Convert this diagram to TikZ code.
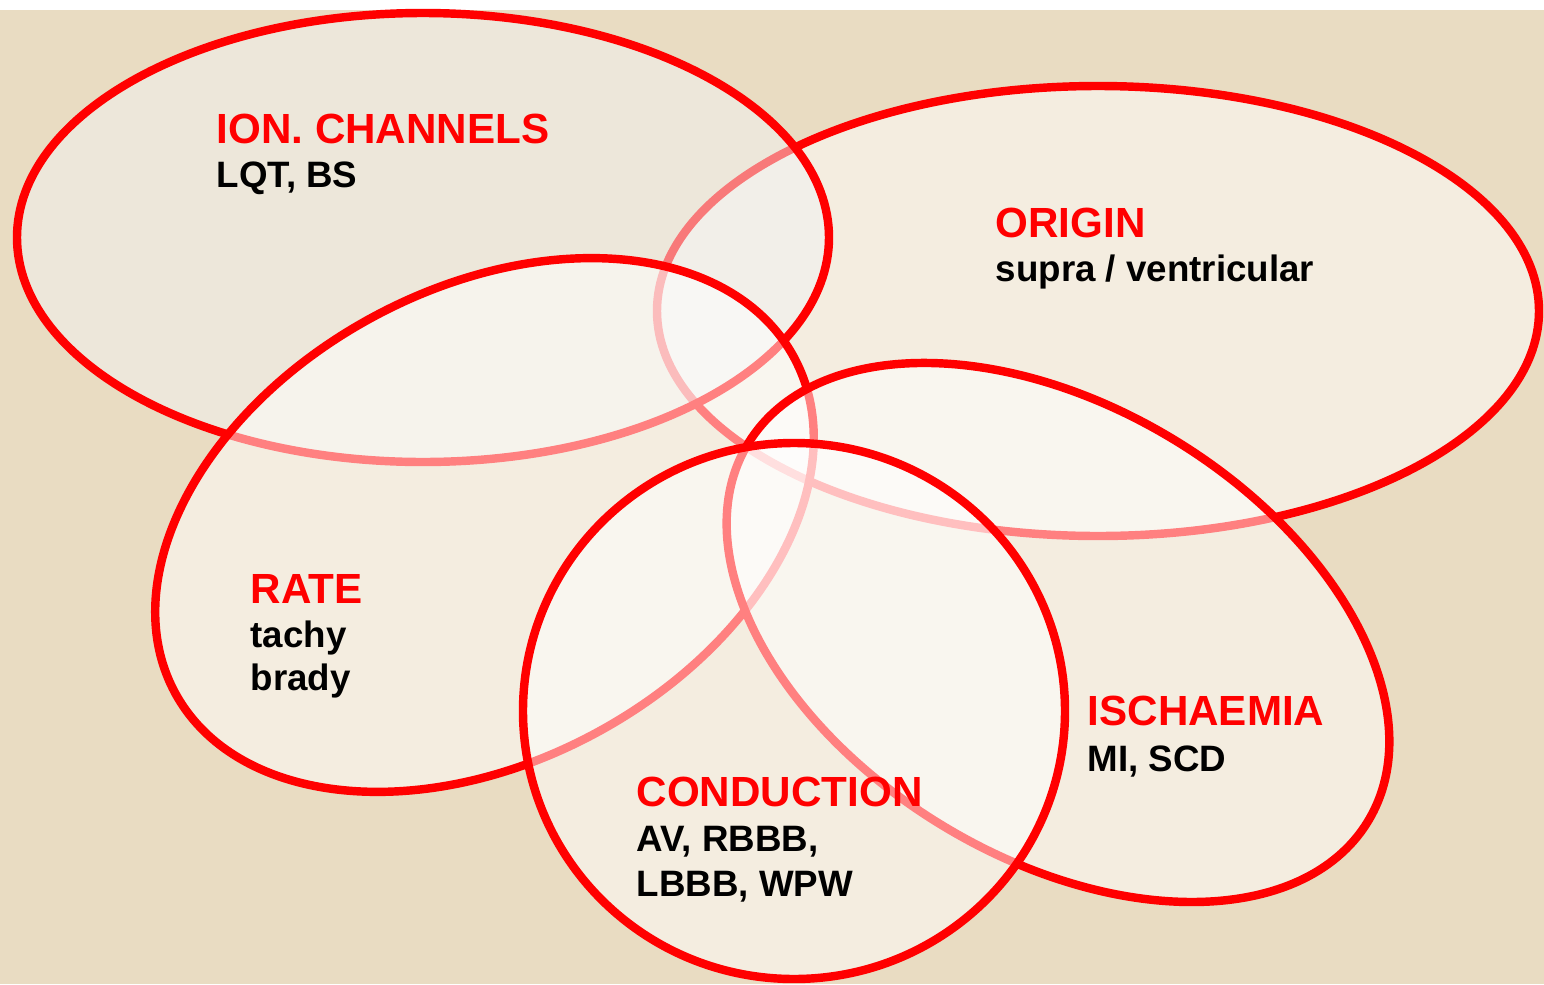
\documentclass[tikz,border=0pt]{standalone}
\usepackage{fontspec}
\setmainfont{Liberation Sans}
\usepackage{xcolor}
\usepackage{tikz}
\usetikzlibrary{positioning}
\definecolor{bgtan}{RGB}{233,220,194}
\definecolor{ionfill}{RGB}{242,242,242}

\begin{document}
\begin{tikzpicture}[
  venn/.style={draw=red,line width=2.4pt,fill=white,fill opacity=0.5},
  title/.style={anchor=base west,inner sep=0pt,text=red,
                font=\fontsize{12}{14}\selectfont\bfseries},
  items/.style={anchor=base west,inner sep=0pt,
                font=\fontsize{10.45}{12}\selectfont\bfseries}
]
  \useasboundingbox (0,0) rectangle (15.44,-9.84);
  \fill[white] (0,0) rectangle (15.44,-9.84);
  \fill[bgtan] (0,-0.10) rectangle (15.44,-9.84);

  % sets, back to front
  \coordinate (origin) at (10.98,-3.11);
  \coordinate (ion)    at (4.23,-2.375);
  \coordinate (rate)   at (4.845,-5.25);
  \coordinate (isch)   at (10.58,-6.325);
  \coordinate (cond)   at (7.94,-7.11);

  \draw[venn] (origin) ellipse [x radius=4.41, y radius=2.25];
  \draw[venn,fill=ionfill] (ion) ellipse [x radius=4.06, y radius=2.245];
  \draw[venn,rotate around={28.5:(rate)}] (rate) ellipse [x radius=3.52, y radius=2.36];
  \draw[venn,rotate around={-31.4:(isch)}] (isch) ellipse [x radius=3.63, y radius=2.25];
  \draw[venn] (cond) ellipse [x radius=2.71, y radius=2.68];

  % labels
  \node[title] (ionT)  at (2.16,-1.43) {ION. CHANNELS};
  \node[items] (ionL)  at (2.16,-1.87) {LQT, BS};

  \node[title] (origT) at (9.95,-2.37) {ORIGIN};
  \node[items] (origL) at (9.95,-2.81) {supra / ventricular};

  \node[title] (rateT) at (2.50,-6.03) {RATE};
  \node[items] (rateA) at (2.50,-6.47) {tachy};
  \node[items] (rateB) at (2.50,-6.90) {brady};

  \node[title] (ischT) at (10.87,-7.25) {ISCHAEMIA};
  \node[items] (ischL) at (10.87,-7.71) {MI, SCD};

  \node[title] (condT) at (6.36,-8.06) {CONDUCTION};
  \node[items] (condA) at (6.36,-8.51) {AV, RBBB,};
  \node[items] (condB) at (6.36,-8.96) {LBBB, WPW};
\end{tikzpicture}
\end{document}
